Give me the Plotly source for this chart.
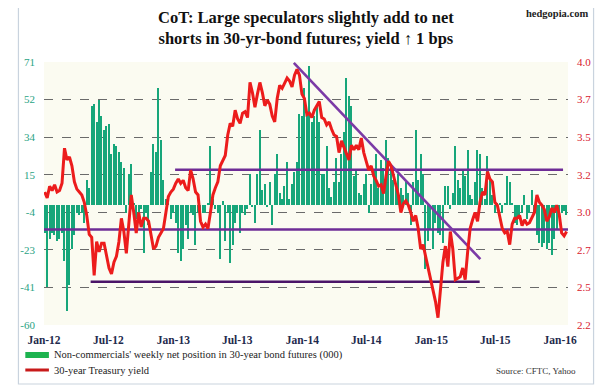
import pandas as pd
import plotly.graph_objects as go

# ---------------- data ----------------
first_week = "2012-01-03"

net_position = [
    # 2012
    -14, -41, -17, -14, -15, -18, -17, -14, -28, -53, -40, -22, -15, -4, -5, -4, -9, 12, 8, 49,
    50, 41, 52, 44, 37, 39, 40, 25, 30, 29, 26, 21, 18, -4, 15, 20, 1, -7, -4, -2,
    -24, -4, -10, 16, 30, 26, 58, 32, 12, 3, 1, -7, -4,
    # 2013
    -9, -24, -28, -22, -10, -17, -4, -5, -20, -4, -7, -4, -4, 1, 29, 3, -2, -4, -27, 2,
    -18, -4, -29, -20, -9, -4, -14, -4, -5, -2, 15, -1, -9, 15, 37, 7, 10, -1, 11, -10,
    15, 25, 6, 3, 9, 21, 3, 10, 16, 21, 45, 44, 58, 45,
    # 2014
    69, 41, 44, 49, 41, 15, 15, 29, 8, 4, 11, 23, 11, 25, 36, 63, 54, 49, 14, 17,
    6, 5, 10, 15, -4, 10, 17, 25, 8, 22, 18, 32, 23, 18, 12, 10, 15, 8, 5, 11,
    6, -10, 11, 37, 12, 25, 15, -32, -18, -12, -22, -9,
    # 2015
    -14, -15, -19, 9, 9, -2, 6, 29, 12, 8, 17, 14, 27, 5, 3, 11, 27, 25, 8, 3,
    24, 13, 5, -4, 1, 1, -4, 1, 14, 11, 1, -9, -10, -7, -4, 5, -7, -4, 7, -4,
    -15, -19, -21, -19, -22, -19, -25, -17, -12, -4, -4, -3, -5,
]

treasury_yield = [
    3.11, 3.07, 3.15, 3.12, 3.16, 3.11, 3.12, 3.17, 3.41, 3.33, 3.35, 3.29, 3.18, 3.13, 3.11, 3.09, 3.04, 2.95, 2.82, 2.80,
    2.54, 2.77, 2.70, 2.76, 2.76, 2.68, 2.59, 2.55, 2.63, 2.67, 2.77, 2.93, 2.84, 2.69, 2.91, 3.09, 2.97, 2.83, 2.97, 2.87,
    2.93, 2.93, 2.91, 2.80, 2.72, 2.74, 2.80, 2.83, 2.86, 2.97, 3.08, 3.11, 3.13,
    3.17, 3.20, 3.17, 3.19, 3.14, 3.12, 3.26, 3.20, 3.11, 3.09, 2.91, 2.87, 2.89, 2.86, 2.97, 3.09, 3.14, 3.18, 3.29, 3.32,
    3.36, 3.50, 3.58, 3.56, 3.67, 3.61, 3.58, 3.65, 3.66, 3.62, 3.86, 3.79, 3.69, 3.78, 3.86, 3.79, 3.70, 3.74, 3.71, 3.63,
    3.59, 3.75, 3.84, 3.82, 3.85, 3.89, 3.87, 3.83, 3.91, 3.95, 3.91, 3.78, 3.75, 3.64,
    3.65, 3.62, 3.67, 3.70, 3.73, 3.62, 3.61, 3.57, 3.59, 3.54, 3.50, 3.49, 3.38, 3.46, 3.42, 3.37, 3.33, 3.43, 3.40, 3.43,
    3.40, 3.48, 3.38, 3.32, 3.26, 3.29, 3.22, 3.19, 3.15, 3.16, 3.10, 3.22, 3.32, 3.29, 3.22, 3.16, 3.09, 2.97, 3.03, 3.05,
    3.02, 2.97, 2.91, 2.95, 2.86, 2.72, 2.75, 2.67, 2.59, 2.50, 2.43, 2.36,
    2.25, 2.45, 2.63, 2.74, 2.60, 2.84, 2.72, 2.51, 2.52, 2.53, 2.59, 2.51, 2.70, 2.86, 2.92, 2.97, 2.91, 3.04, 3.11, 3.09,
    3.25, 3.20, 3.18, 3.04, 3.02, 2.93, 2.86, 2.83, 2.84, 2.75, 2.89, 2.93, 2.93, 2.95, 2.88, 2.92, 2.89, 2.90, 2.93, 2.97,
    3.09, 3.04, 3.02, 2.99, 2.91, 2.94, 3.00, 2.97, 3.02, 2.96, 2.83, 2.81, 2.84,
]

# trend / support / resistance lines drawn on the yield axis
resistance_dates = ["2013-01-06", "2016-01-09"]
resistance_level = [3.263, 3.263]
mid_dates = ["2012-01-01", "2016-01-23"]
mid_level = [2.854, 2.854]
support_dates = ["2012-05-12", "2015-05-18"]
support_level = [2.496, 2.496]
trend_dates = ["2013-12-08", "2015-05-20"]
trend_level = [3.994, 2.651]

left_tick_text = ["-60", "-41", "-23", "-4", "15", "34", "52", "71"]
right_tick_text = ["2.2", "2.5", "2.7", "3.0", "3.2", "3.5", "3.7", "4.0"]
x_tick_dates = ["2012-01-01", "2012-07-01", "2013-01-01", "2013-07-01", "2014-01-01",
                "2014-07-01", "2015-01-01", "2015-07-01", "2016-01-01"]
x_tick_text = ["Jan-12", "Jul-12", "Jan-13", "Jul-13", "Jan-14", "Jul-14", "Jan-15", "Jul-15", "Jan-16"]

title_text = ("CoT: Large speculators slightly add to net<br>"
              "shorts in 30-yr-bond futures; yield \u2191 1 bps")
bar_label = "Non-commercials' weekly net position in 30-year bond futures (000)"
line_label = "30-year Treasury yield"

# ---------------- figure ----------------
weeks = pd.date_range(first_week, periods=len(net_position), freq="7D")

OFF = 8                      # page body margin of the html page
W, H = 603 - OFF, 390 - OFF
ML, MR, MT, MB = 27, 35, 54, 65
PW, PH = W - ML - MR, H - MT - MB


def px(x):  # screen pixel -> paper x
    return (x - OFF - ML) / PW


def py(y):  # screen pixel -> paper y
    return (H - MB - (y - OFF)) / PH


SERIF = "Liberation Serif, Times New Roman, serif"
GREEN = "#17a67a"
RED = "#ec1c1c"
PURPLE = "#6e2c96"

fig = go.Figure()

fig.add_trace(go.Bar(
    x=weeks, y=net_position, name=bar_label,
    marker=dict(color=GREEN, line=dict(width=0)),
    width=3.6 * 24 * 3600 * 1000, yaxis="y", showlegend=False,
))

for d, v, c in [(resistance_dates, resistance_level, PURPLE),
                (mid_dates, mid_level, PURPLE),
                (support_dates, support_level, "#4a1468"),
                (trend_dates, trend_level, "#7b3aa6")]:
    fig.add_trace(go.Scatter(x=d, y=v, mode="lines", yaxis="y2",
                             line=dict(color=c, width=2.6), showlegend=False,
                             hoverinfo="skip"))

fig.add_trace(go.Scatter(
    x=weeks, y=treasury_yield, name=line_label, mode="lines", yaxis="y2",
    line=dict(color=RED, width=3), showlegend=False,
))

lmin, lmax = -60, 71
rmin, rmax = 2.2, 4.0
left_vals = [lmin + i * (lmax - lmin) / 7 for i in range(8)]
right_vals = [rmin + i * (rmax - rmin) / 7 for i in range(8)]

fig.update_layout(
    width=W, height=H,
    margin=dict(l=ML, r=MR, t=MT, b=MB),
    paper_bgcolor="white",
    plot_bgcolor="#fbfbf1",
    bargap=0,
    font=dict(family=SERIF, size=11, color="#222"),
    xaxis=dict(
        type="date", range=["2012-01-01", "2016-01-23"],
        tickmode="array", tickvals=x_tick_dates, ticktext=x_tick_text,
        showgrid=False, zeroline=False, showline=False, ticks="",
        tickfont=dict(family=SERIF, size=11.5, color="#1f2b4d", weight="bold"),
        ticklabelstandoff=6,
    ),
    yaxis=dict(
        range=[lmin, lmax], tickmode="array", tickvals=left_vals, ticktext=left_tick_text,
        showgrid=True, gridcolor="#6a6a6a", griddash="dash", gridwidth=1,
        zeroline=False, showline=False, ticks="",
        tickfont=dict(family=SERIF, size=11, color="#2aa384"),
        ticklabelstandoff=8,
    ),
    yaxis2=dict(
        range=[rmin, rmax], overlaying="y", side="right",
        tickmode="array", tickvals=right_vals, ticktext=right_tick_text,
        showgrid=False, zeroline=False, showline=False, ticks="",
        tickfont=dict(family=SERIF, size=11, color="#d8202e"),
        ticklabelstandoff=8,
    ),
    shapes=[
        dict(type="rect", xref="paper", yref="paper",
             x0=px(9), x1=px(594), y0=py(384), y1=py(4),
             line=dict(color="#c9d3de", width=1.2), fillcolor="rgba(0,0,0,0)",
             layer="below"),
        dict(type="rect", xref="paper", yref="paper",
             x0=px(16), x1=px(40), y0=py(358), y1=py(352),
             line=dict(width=0), fillcolor="#1db34f"),
        dict(type="line", xref="paper", yref="paper",
             x0=px(16), x1=px(40), y0=py(370), y1=py(370),
             line=dict(color="#c81a1a", width=3)),
    ],
    annotations=[
        dict(text=title_text, xref="paper", yref="paper", x=px(301), y=py(28),
             xanchor="center", yanchor="middle", showarrow=False, align="center",
             font=dict(family=SERIF, size=16.5, color="#111", weight="bold")),
        dict(text="hedgopia.com", xref="paper", yref="paper", x=px(590), y=py(13),
             xanchor="right", yanchor="middle", showarrow=False,
             font=dict(family=SERIF, size=10.5, color="#222", weight="bold")),
        dict(text=bar_label, xref="paper", yref="paper", x=px(43), y=py(355),
             xanchor="left", yanchor="middle", showarrow=False,
             font=dict(family=SERIF, size=10.5, color="#222")),
        dict(text=line_label, xref="paper", yref="paper", x=px(43), y=py(370),
             xanchor="left", yanchor="middle", showarrow=False,
             font=dict(family=SERIF, size=10.5, color="#222")),
        dict(text="Source: CFTC, Yahoo", xref="paper", yref="paper", x=px(578), y=py(371),
             xanchor="right", yanchor="middle", showarrow=False,
             font=dict(family=SERIF, size=9, color="#333")),
    ],
)

fig.write_html("out.html")
